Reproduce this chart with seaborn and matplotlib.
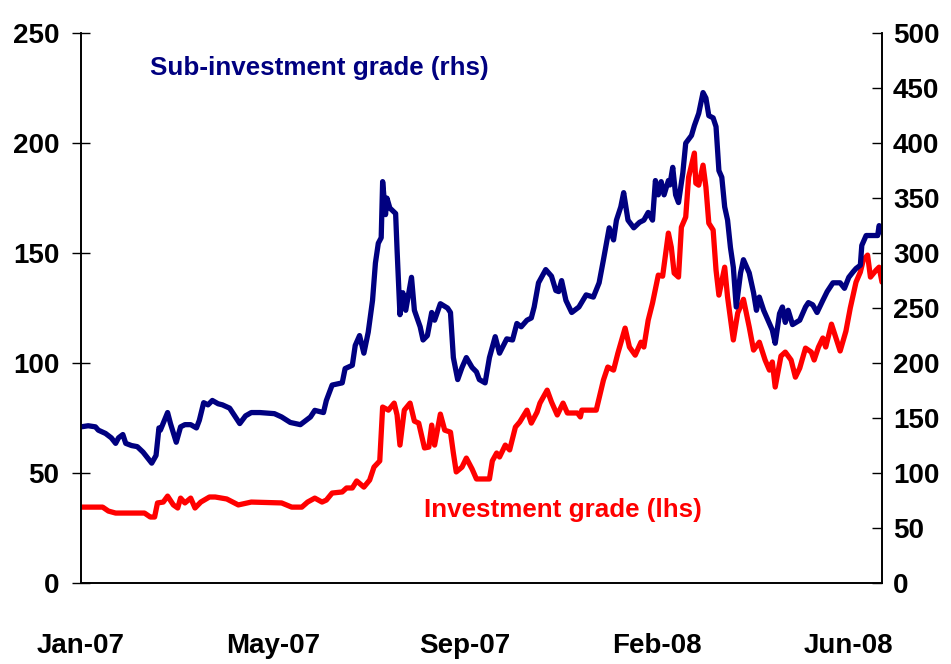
"""Investment grade vs sub-investment grade spreads, Jan-07 to Jun-08."""
import pandas as pd
import matplotlib
matplotlib.use('Agg')
import matplotlib.pyplot as plt
import seaborn as sns

START = pd.Timestamp('2007-01-01')

# Sub-investment grade (rhs): days since 1 Jan 2007, value
hy_days = [0, 5, 10, 12, 17, 21, 24, 26, 29, 31, 35, 39, 43, 46, 49, 52, 54, 55,
           60, 62, 66, 69, 72, 76, 80, 82, 85, 88, 91, 95, 98, 103, 110, 114,
           118, 124, 134, 139, 145, 152, 159, 162, 168, 170, 174, 181, 183, 188,
           190, 193, 196, 199, 202, 204, 206, 208, 209, 211, 212, 214, 218, 219,
           221, 223, 225, 229, 231, 235, 237, 240, 243, 245, 249, 254, 256, 258,
           261, 264, 267, 271, 274, 276, 280, 283, 287, 290, 295, 299, 302, 305,
           309, 312, 314, 317, 322, 326, 329, 331, 333, 336, 340, 345, 350, 355,
           359, 362, 366, 369, 371, 374, 376, 379, 383, 387, 390, 393, 396, 398,
           400, 402, 404, 407, 408, 410, 412, 414, 417, 419, 423, 425, 428, 431,
           433, 435, 438, 440, 442, 444, 446, 448, 450, 452, 454, 457, 459, 463,
           466, 468, 470, 473, 476, 479, 481, 484, 486, 488, 490, 493, 498, 502,
           504, 507, 510, 514, 517, 521, 526, 529, 532, 535, 537, 540, 541, 544,
           552, 553, 555]
hy_values = [142, 143, 142, 139, 136, 132, 127, 132, 135, 127, 125, 124, 119, 114,
             109, 116, 141, 139, 155, 145, 128, 142, 144, 144, 141, 148, 164, 162,
             166, 163, 162, 159, 145, 152, 155, 155, 154, 151, 146, 144, 151, 157,
             155, 166, 180, 182, 195, 198, 216, 225, 209, 228, 257, 291, 309, 314,
             365, 335, 350, 341, 336, 303, 244, 264, 248, 278, 248, 233, 221, 225,
             246, 239, 254, 250, 246, 205, 185, 196, 205, 196, 192, 185, 182, 205,
             224, 209, 222, 221, 236, 233, 239, 241, 251, 273, 285, 279, 266, 265,
             275, 257, 246, 251, 262, 260, 273, 294, 323, 312, 330, 342, 355, 330,
             323, 328, 330, 337, 330, 366, 353, 365, 353, 366, 362, 378, 353, 346,
             373, 400, 407, 416, 427, 446, 441, 425, 423, 415, 375, 369, 342, 330,
             305, 287, 251, 282, 294, 282, 264, 248, 260, 248, 239, 230, 218, 245,
             251, 237, 248, 235, 239, 251, 255, 253, 246, 257, 265, 273, 273, 268,
             278, 283, 286, 289, 307, 316, 316, 325, 319]

# Investment grade (lhs): days since 1 Jan 2007, value
ig_days = [0, 15, 19, 24, 44, 48, 51, 53, 57, 60, 64, 67, 69, 72, 76, 79, 83, 89,
           93, 101, 109, 118, 139, 146, 153, 157, 162, 167, 170, 174, 181, 184,
           188, 191, 196, 200, 203, 207, 209, 213, 217, 219, 221, 224, 228, 231,
           234, 238, 241, 243, 245, 249, 252, 256, 258, 260, 264, 267, 271, 274,
           283, 285, 288, 290, 294, 297, 301, 304, 309, 312, 316, 318, 323, 326,
           330, 334, 337, 344, 346, 347, 357, 362, 365, 369, 372, 377, 380, 384,
           388, 390, 393, 396, 400, 403, 407, 409, 411, 414, 416, 419, 421, 425,
           426, 428, 431, 433, 435, 438, 440, 442, 446, 448, 452, 455, 459, 463,
           466, 470, 474, 477, 479, 481, 485, 488, 492, 495, 498, 502, 506, 508,
           511, 514, 516, 520, 522, 526, 530, 533, 537, 540, 542, 545, 547, 551,
           553, 555]
ig_values = [34.5, 34.5, 32.7, 31.8, 31.8, 30.0, 30.0, 36.4, 36.8, 39.5, 35.5,
             34.1, 38.6, 36.4, 38.6, 34.1, 36.8, 39.1, 39.1, 38.2, 35.5, 36.8,
             36.4, 34.5, 34.5, 36.8, 38.6, 36.8, 37.7, 40.9, 41.4, 43.2, 43.2,
             46.4, 43.6, 46.8, 52.7, 55.5, 80.0, 78.6, 81.8, 76.4, 62.7, 78.6,
             81.8, 73.6, 72.7, 61.4, 61.8, 71.8, 62.7, 76.8, 69.5, 68.6, 59.1,
             50.5, 52.7, 56.8, 51.8, 47.3, 47.3, 55.5, 59.1, 57.3, 62.7, 60.5,
             70.9, 73.2, 78.6, 72.7, 77.7, 81.8, 87.7, 82.3, 76.4, 81.8, 77.3,
             77.3, 75.5, 78.6, 78.6, 92.3, 98.2, 96.8, 104.5, 115.9, 107.3, 103.6,
             109.5, 107.3, 119.5, 127.3, 140.0, 139.5, 159.1, 152.7, 140.9, 139.1,
             161.8, 166.4, 184.5, 195.5, 181.8, 180.9, 190.0, 180.0, 163.6, 160.5,
             142.3, 130.9, 143.6, 130.0, 110.5, 122.7, 129.0, 116.4, 105.9, 109.5,
             101.4, 96.8, 100.5, 89.1, 103.2, 105.0, 101.4, 93.6, 97.7, 106.8,
             105.0, 101.4, 107.3, 111.4, 107.3, 117.7, 113.6, 105.5, 114.5, 125.0,
             136.8, 141.4, 146.8, 149.1, 139.1, 142.3, 143.6, 136.8]

tick_labels = ['Jan-07', 'May-07', 'Sep-07', 'Feb-08', 'Jun-08']

NAVY = '#000080'
RED = '#FF0000'

hy = pd.DataFrame({'date': START + pd.to_timedelta(hy_days, unit='D'),
                   'value': hy_values})
ig = pd.DataFrame({'date': START + pd.to_timedelta(ig_days, unit='D'),
                   'value': ig_values})

sns.set_style('white')
plt.rcParams['font.family'] = ['Liberation Sans', 'DejaVu Sans']
plt.rcParams['font.weight'] = 'bold'

fig, ax = plt.subplots(figsize=(9.51, 6.64), dpi=100)
fig.subplots_adjust(left=81 / 951, right=882 / 951, bottom=0.122, top=0.950)
ax2 = ax.twinx()

sns.lineplot(data=ig, x='date', y='value', ax=ax, color=RED, lw=3.8)
sns.lineplot(data=hy, x='date', y='value', ax=ax2, color=NAVY, lw=3.8)

ax.set_xlim(START, START + pd.Timedelta(days=555))
ax.set_ylim(0, 250)
ax2.set_ylim(0, 500)
ax.set_yticks(range(0, 251, 50))
ax2.set_yticks(range(0, 501, 50))
ax.set_xticks(pd.date_range(START, periods=5, freq='133D'))
ax.set_xticklabels(tick_labels)
ax.set_xlabel('')
ax.set_ylabel('')
ax2.set_ylabel('')

for a in (ax, ax2):
    a.spines['top'].set_visible(False)
    for s in a.spines.values():
        s.set_color('black')
        s.set_linewidth(1.2)

ax.tick_params(axis='y', direction='inout', length=13, width=1, colors='black',
               labelsize=20, pad=9)
ax.tick_params(axis='x', direction='inout', length=20, width=1, colors='black',
               labelsize=20, pad=26)
ax2.tick_params(axis='y', direction='in', length=7, width=1, colors='black',
                labelsize=20, pad=8)

ax.text(START + pd.Timedelta(days=48), 234, 'Sub-investment grade (rhs)',
        color=NAVY, fontsize=18.7, fontweight='bold', va='center', ha='left')
ax.text(START + pd.Timedelta(days=238), 33, 'Investment grade (lhs)',
        color=RED, fontsize=18.7, fontweight='bold', va='center', ha='left')

fig.savefig('out.png', dpi=100)
